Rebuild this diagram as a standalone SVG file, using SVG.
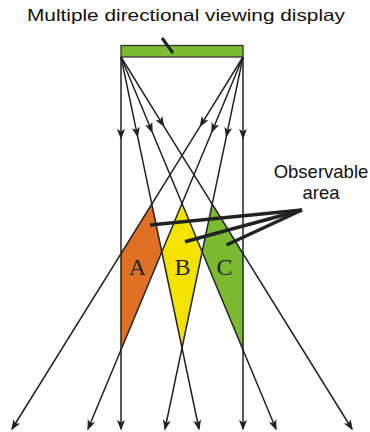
<svg xmlns="http://www.w3.org/2000/svg" width="370" height="432" viewBox="0 0 370 432">
<style>
.ray{fill:none;stroke:#222;stroke-width:1.5;marker-mid:url(#ah);marker-end:url(#ah)}
.ptr{stroke:#222;stroke-width:3.5;fill:none}
.t{font-family:"Liberation Sans",Arial,sans-serif;fill:#111}
.lab{font-family:"Liberation Serif","Times New Roman",serif;font-size:24px;fill:#222;text-anchor:middle}
</style>
<defs>
<marker id="ah" markerUnits="userSpaceOnUse" markerWidth="14" markerHeight="10" viewBox="-11 -5 14 10" refX="0" refY="0" orient="auto">
<path d="M1.5,0 L-9,-4 L-6.5,0 L-9,4 Z" fill="#222"/>
</marker>
</defs>
<rect width="370" height="432" fill="#fff"/>
<text class="t" x="27" y="21" font-size="16.5" textLength="318" lengthAdjust="spacingAndGlyphs">Multiple directional viewing display</text>
<g id="regions">
<g id="regionA"><polygon points="151.8,203.87 161.84,251.78 121,349.8 121,253.47" fill="#e07124"/></g>
<g id="regionB"><polygon points="182,203.4 202.16,251.78 182,347.92 161.84,251.78" fill="#f4e300"/></g>
<g id="regionC"><polygon points="212.2,203.87 243,253.47 243,349.8 202.16,251.78" fill="#7bba31"/></g>
</g>
<g id="display">
<rect x="121" y="45.5" width="122" height="11.5" fill="#7bba31" stroke="#333" stroke-width="1.3"/>
<line x1="162" y1="38" x2="173" y2="53" stroke="#222" stroke-width="3"/>
</g>
<g id="connectors">
<path class="ray" d="M121,57 L121,138 L121,429"/>
<path class="ray" d="M121,57 L137.6,136.3 L199,429"/>
<path class="ray" d="M121,57 L152.1,131.8 L276,429"/>
<path class="ray" d="M121,57 L163.6,125.8 L352,429"/>
<path class="ray" d="M243,57 L243,138 L243,429"/>
<path class="ray" d="M243,57 L226.4,136.3 L165,429"/>
<path class="ray" d="M243,57 L211.9,131.8 L88,429"/>
<path class="ray" d="M243,57 L200.4,125.8 L12,429"/>
<line class="ptr" x1="302" y1="210" x2="150" y2="225"/>
<line class="ptr" x1="302" y1="210" x2="185" y2="241.7"/>
<line class="ptr" x1="302" y1="210" x2="226.5" y2="245"/>
</g>
<g id="labels">
<text class="lab" x="137.5" y="274.5">A</text>
<text class="lab" x="182.5" y="274.5">B</text>
<text class="lab" x="224.5" y="274.5">C</text>
<text class="t" x="321" y="178" font-size="18.5" text-anchor="middle">Observable</text>
<text class="t" x="321" y="199" font-size="18.5" text-anchor="middle">area</text>
</g>
</svg>
